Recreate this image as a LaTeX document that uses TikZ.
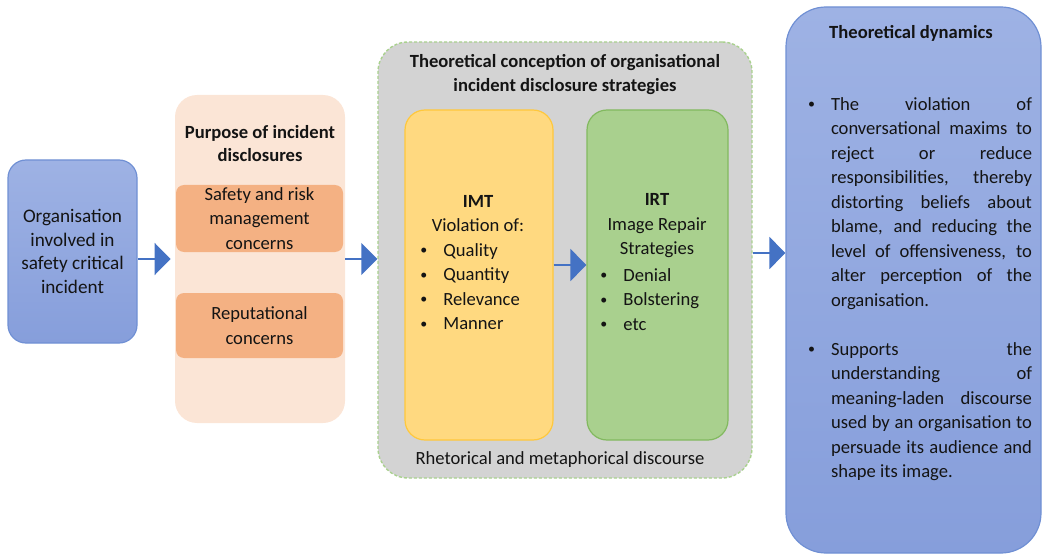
\documentclass[tikz,border=0pt]{standalone}
\usepackage{fontspec}
\setmainfont{Carlito}
\usetikzlibrary{arrows.meta}
\definecolor{bluetop}{RGB}{158,178,228}
\definecolor{bluebot}{RGB}{134,158,219}
\definecolor{blueline}{RGB}{112,144,212}
\definecolor{peach}{RGB}{251,229,214}
\definecolor{orangefill}{RGB}{244,177,131}
\definecolor{greyfill}{RGB}{211,211,211}
\definecolor{greenline}{RGB}{169,209,142}
\definecolor{yellowfill}{RGB}{255,217,128}
\definecolor{yellowline}{RGB}{255,200,60}
\definecolor{greenfill}{RGB}{169,208,142}
\definecolor{greendark}{RGB}{130,185,95}
\definecolor{arrowblue}{RGB}{68,114,196}
\definecolor{ink}{RGB}{20,20,20}
\newcommand{\itembul}{\makebox[11.5pt][l]{\raisebox{0.8pt}{\scalebox{0.75}{\textbullet}}}}

\begin{document}
\begin{tikzpicture}[x=0.5pt,y=-0.5pt,
  every node/.style={font=\fontsize{9.3}{12.25}\selectfont, text=ink, inner sep=0pt},
  bluebox/.style={draw=blueline, line width=0.6pt, top color=bluetop, bottom color=bluebot},
  peachbox/.style={fill=peach, rounded corners=11pt},
  orangebox/.style={fill=orangefill, rounded corners=4pt, align=center},
  greybox/.style={fill=greyfill, draw=greenline, line width=0.7pt, dash pattern=on 1.5pt off 1pt, rounded corners=15pt},
  imtbox/.style={fill=yellowfill, draw=yellowline, line width=0.6pt, rounded corners=10pt},
  irtbox/.style={fill=greenfill, draw=greendark, line width=0.6pt, rounded corners=10pt},
  flow/.style={draw=arrowblue, line width=0.8pt, -{Triangle[length=8pt,width=16pt]}}]
\useasboundingbox (0,0) rectangle (1045,556);
%organisation
\node[bluebox, rounded corners=9pt, minimum width=64.5pt, minimum height=91.5pt, align=center, font=\fontsize{9.6}{11.8}\selectfont] (org) at (72.5,251.5) {Organisation\\involved in\\safety critical\\incident};
%purpose
\node[peachbox, minimum width=85pt, minimum height=164pt] (purpose) at (260,259) {};
\node[align=center, font=\fontsize{9.3}{11.5}\selectfont\bfseries] (purposetitle) at (260,144) {Purpose of incident\\disclosures};
\node[orangebox, minimum width=83.5pt, minimum height=33.5pt] (safety) at (259.5,218.5) {Safety and risk\\management\\concerns};
\node[orangebox, minimum width=83.5pt, minimum height=32.5pt] (reput) at (259.5,325.5) {Reputational\\concerns};
%theoretical conception
\node[greybox, minimum width=187pt, minimum height=218pt] (theory) at (565,260) {};
\node[align=center, font=\fontsize{9.3}{12.25}\selectfont\bfseries] (theorytitle) at (565,74.5) {Theoretical conception of organisational\\incident disclosure strategies};
\node (rhet) at (560,460) {Rhetorical and metaphorical discourse};
\node[imtbox, minimum width=74pt, minimum height=165pt] (imt) at (479,275) {};
\node[align=center] (imttitle) at (478,213.5) {\textbf{IMT}\\Violation of:};
\node[anchor=west, align=left] (imtlist) at (420,286.5) {\itembul Quality\\\itembul Quantity\\\itembul Relevance\\\itembul Manner};
\node[irtbox, minimum width=70.5pt, minimum height=165pt] (irt) at (657.5,275) {};
\node[align=center] (irttitle) at (657,226) {\textbf{IRT}\\Image Repair\\Strategies};
\node[anchor=west, align=left] (irtlist) at (600,299.5) {\itembul Denial\\\itembul Bolstering\\\itembul etc};
%theoretical dynamics
\node[bluebox, rounded corners=20pt, minimum width=127.5pt, minimum height=273pt] (dyn) at (913.5,280) {};
\node[font=\fontsize{9.3}{12.25}\selectfont\bfseries] (dyntitle) at (911,33) {Theoretical dynamics};
\node[text width=112pt, align=justify] (dynlist) at (920,289) {\hyphenpenalty=10000
\hangindent=11.5pt\hangafter=1\noindent\itembul The violation of\linebreak conversational maxims to\linebreak reject or reduce\linebreak responsibilities, thereby\linebreak distorting beliefs about\linebreak blame, and reducing the\linebreak level of offensiveness, to\linebreak alter perception of the\linebreak organisation.\par
\vspace{12.25pt}
\hangindent=11.5pt\hangafter=1\noindent\itembul Supports the\linebreak understanding of\linebreak meaning-laden discourse\linebreak used by an organisation to\linebreak persuade its audience and\linebreak shape its image.\par};
%arrows
\draw[flow, shorten >=2pt] (org.east |- purpose.west) -- (purpose.west);
\draw[flow] (purpose.east) -- (purpose.east -| theory.west);
\draw[flow] ([yshift=5pt]imt.east) -- ([yshift=5pt]irt.west);
\draw[flow] ([yshift=3.5pt]theory.east) -- ([yshift=3.5pt]theory.east -| dyn.west);
\end{tikzpicture}
\end{document}
